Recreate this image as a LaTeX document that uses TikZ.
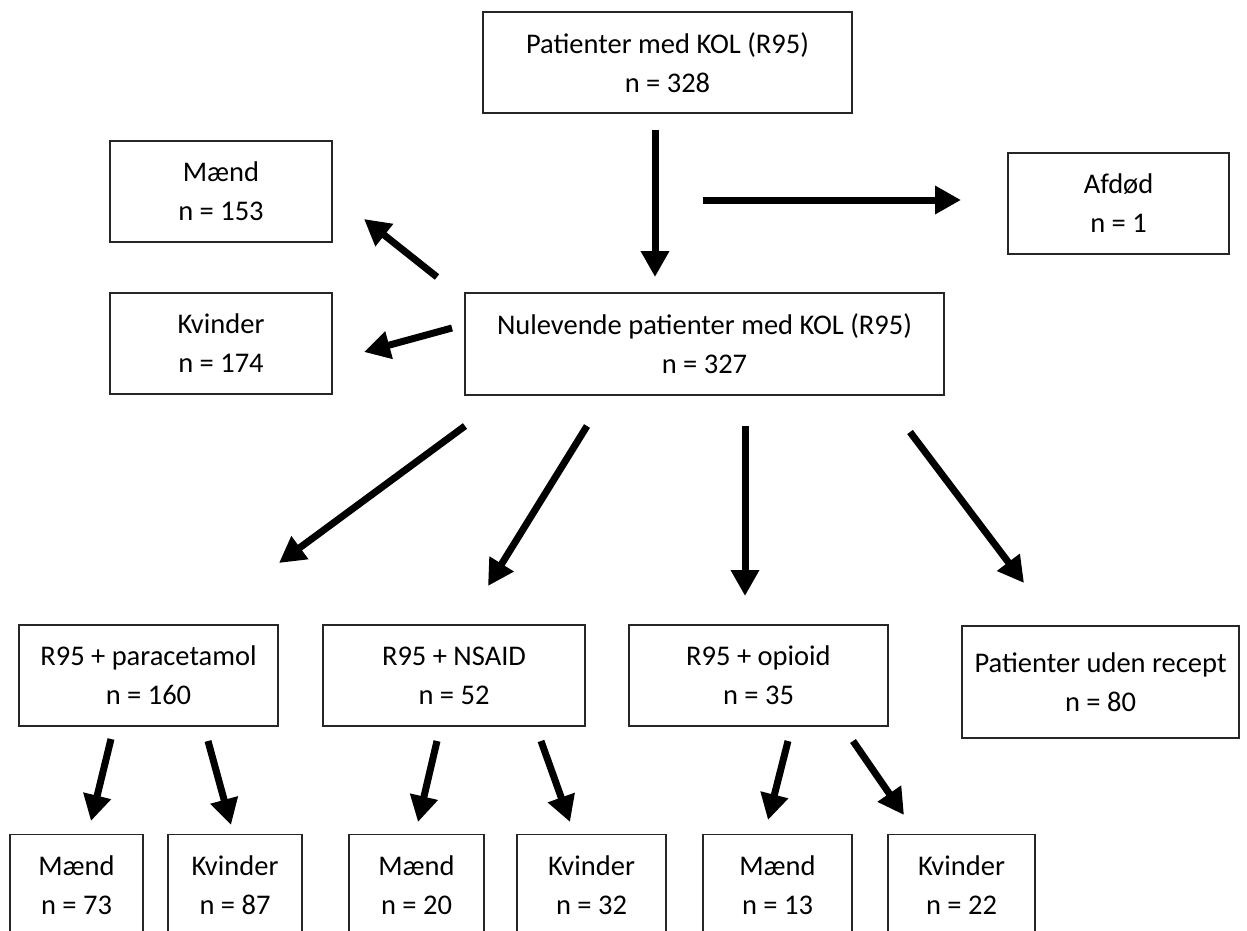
\documentclass[tikz,border=0pt]{standalone}
\usepackage{fontspec}
\setmainfont{Carlito}
\usetikzlibrary{arrows.meta}
\begin{document}
\begin{tikzpicture}[x=1pt,y=-1pt,
  box/.style={draw=black!85,line width=1.6pt,rectangle,inner sep=0pt,align=center,
    font=\fontsize{28.5}{39}\selectfont,minimum height=101pt},
  arr/.style={line width=7pt,-{Triangle[length=26pt,width=27pt]}}]
\path[use as bounding box,clip] (0,0) rectangle (1247,931);
\fill[white] (0,0) rectangle (1247,931);
% boxes
\node[box,minimum width=369pt] (top) at (667.5,62.5) {Patienter med KOL (R95)\\n = 328};
\node[box,minimum width=222pt] (maend) at (221,191.5) {Mænd\\n = 153};
\node[box,minimum width=221pt] (afdod) at (1118.5,203.5) {Afdød\\n = 1};
\node[box,minimum width=222pt] (kvinder) at (221,343.5) {Kvinder\\n = 174};
\node[box,minimum width=479pt,minimum height=102pt] (nul) at (704.5,344) {Nulevende patienter med KOL (R95)\\n = 327};
\node[box,minimum width=259pt] (para) at (148.5,675.5) {R95 + paracetamol\\n = 160};
\node[box,minimum width=262pt] (nsaid) at (454,675.5) {R95 + NSAID\\n = 52};
\node[box,minimum width=259pt] (opioid) at (758.5,675.5) {R95 + opioid\\n = 35};
\node[box,minimum width=277pt,minimum height=112pt] (uden) at (1100.5,682) {Patienter uden recept\\n = 80};
\node[box,minimum width=133pt] (m1) at (76.5,885) {Mænd\\n = 73};
\node[box,minimum width=134pt] (k1) at (235,885) {Kvinder\\n = 87};
\node[box,minimum width=135pt] (m2) at (416.5,885) {Mænd\\n = 20};
\node[box,minimum width=149pt] (k2) at (591.5,885) {Kvinder\\n = 32};
\node[box,minimum width=149pt] (m3) at (777.5,885) {Mænd\\n = 13};
\node[box,minimum width=147pt] (k3) at (961.5,885) {Kvinder\\n = 22};
% arrow end points
\coordinate (a1s) at (655,130); \coordinate (a1e) at (655,277);
\coordinate (a2s) at (703,200); \coordinate (a2e) at (961,200);
\coordinate (a3s) at (437,277); \coordinate (a3e) at (364,219);
\coordinate (a4s) at (452,328); \coordinate (a4e) at (364,352);
\coordinate (b1s) at (465,426); \coordinate (b1e) at (279,563);
\coordinate (b2s) at (587,426); \coordinate (b2e) at (488,586);
\coordinate (b3s) at (745,426); \coordinate (b3e) at (745,596);
\coordinate (b4s) at (910,432); \coordinate (b4e) at (1024,583);
\coordinate (c1s) at (111,739); \coordinate (c1e) at (91,821);
\coordinate (c2s) at (208,741); \coordinate (c2e) at (231,825);
\coordinate (c3s) at (437,741); \coordinate (c3e) at (418,822);
\coordinate (c4s) at (541,741); \coordinate (c4e) at (570,822);
\coordinate (c5s) at (788,741); \coordinate (c5e) at (768,820);
\coordinate (c6s) at (853,741); \coordinate (c6e) at (904,815);
\foreach \a in {a1,a2,a3,a4,b1,b2,b3,b4,c1,c2,c3,c4,c5,c6}
  \draw[arr] (\a s) -- (\a e);
\end{tikzpicture}
\end{document}
